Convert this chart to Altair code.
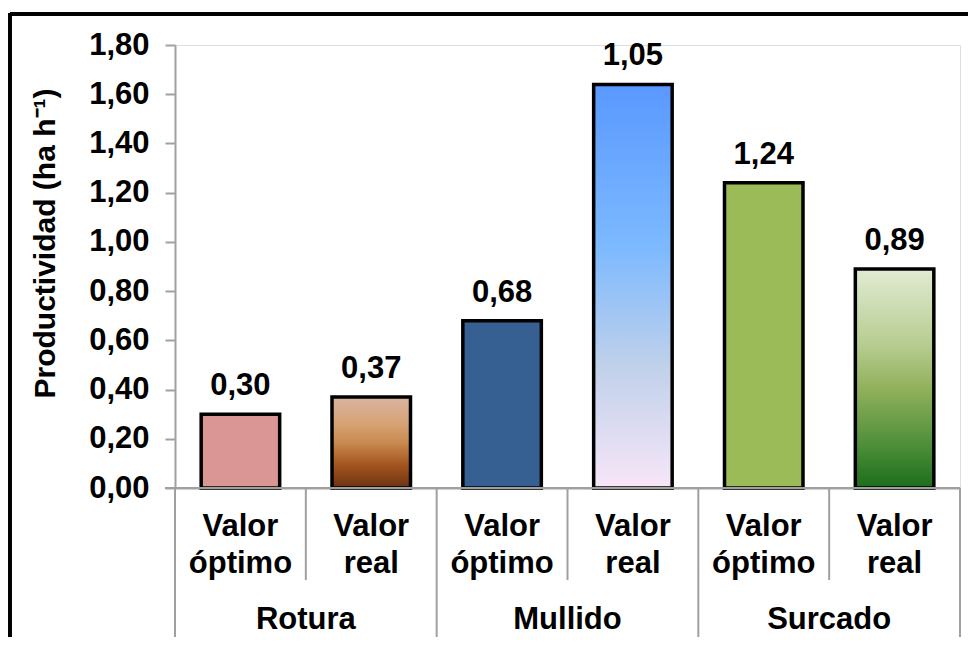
import altair as alt
import pandas as pd

FONT = "Liberation Sans"

groups = ["Rotura", "Mullido", "Surcado"]
line1 = ["Valor", "Valor", "Valor", "Valor", "Valor", "Valor"]
line2 = ["óptimo", "real", "óptimo", "real", "óptimo", "real"]
heights = [0.30, 0.37, 0.68, 1.64, 1.24, 0.89]
value_labels = ["0,30", "0,37", "0,68", "1,05", "1,24", "0,89"]
y_ticks = [0.0, 0.2, 0.4, 0.6, 0.8, 1.0, 1.2, 1.4, 1.6, 1.8]


def grad(stops):
    return alt.Gradient(
        gradient="linear", x1=0, x2=0, y1=0, y2=1,
        stops=[alt.GradientStop(color=c, offset=o) for o, c in stops],
    )


fills = [
    "#d99694",
    grad([(0, "#dab4a2"), (0.3, "#d6a273"), (0.5, "#c98a50"), (0.75, "#a3541f"), (1, "#6b3311")]),
    "#376092",
    grad([(0, "#5a98ff"), (0.4, "#7cb9ff"), (0.7, "#c0d1ea"), (1, "#f8e6f8")]),
    "#9bbb59",
    grad([(0, "#e1ebd3"), (0.35, "#b6cc90"), (0.55, "#90b05b"), (0.8, "#4f8f3a"), (1, "#1b6d1b")]),
]

n = len(heights)
bars = pd.DataFrame({
    "idx": list(range(n)),
    "x0": [i + 0.2 for i in range(n)],
    "x1": [i + 0.8 for i in range(n)],
    "xc": [i + 0.5 for i in range(n)],
    "h": heights,
    "lab": value_labels,
    "l1": line1,
    "l2": line2,
})
grp = pd.DataFrame({"xc": [2 * i + 1 for i in range(len(groups))], "g": groups})
inner_sep = pd.DataFrame({"x": [1, 3, 5]})
group_sep = pd.DataFrame({"x": [0, 2, 4, 6]})

xscale = alt.Scale(domain=[0, 6], nice=False, zero=False)
yscale = alt.Scale(domain=[0, 1.8], nice=False)
GRAY = "#a0a0a0"
FS = 31

base = alt.Chart(bars)

yaxis = alt.Axis(
    values=y_ticks,
    labelExpr="replace(format(datum.value, '.2f'), '.', ',')",
    labelFont=FONT, labelFontSize=FS, labelFontWeight="bold", labelColor="black",
    labelPadding=16, tickSize=10, tickColor=GRAY, tickWidth=2,
    domainColor=GRAY, domainWidth=2, grid=False,
    title="Productividad (ha h⁻¹)", titleFont=FONT, titleFontSize=30,
    titleFontWeight="bold", titleColor="black", titleAngle=270,
    titleX=-130, titleY=198, titleAlign="center", titleBaseline="middle",
)
xaxis = alt.Axis(labels=False, ticks=False, title=None, grid=False,
                 domainColor=GRAY, domainWidth=2)

layers = []
for i in range(n):
    layers.append(
        base.transform_filter(alt.datum.idx == i)
        .mark_bar(fill=fills[i], stroke="black", strokeWidth=3.5)
        .encode(
            x=alt.X("x0:Q", scale=xscale, axis=xaxis),
            x2="x1:Q",
            y=alt.Y("h:Q", scale=yscale, axis=yaxis),
            y2=alt.datum(0),
        )
    )

axis_line = base.mark_rule(color=GRAY, strokeWidth=2).encode(
    x=alt.value(-10), x2=alt.value(785), y=alt.value(443)
)

value_text = base.mark_text(
    font=FONT, fontSize=FS, fontWeight="bold", color="black",
    baseline="alphabetic", dy=-19,
).encode(x=alt.X("xc:Q", scale=xscale), y=alt.Y("h:Q", scale=yscale), text="lab:N")

cat1 = base.mark_text(font=FONT, fontSize=FS, fontWeight="bold", color="black",
                      baseline="alphabetic").encode(
    x=alt.X("xc:Q", scale=xscale), y=alt.value(491), text="l1:N")
cat2 = base.mark_text(font=FONT, fontSize=FS, fontWeight="bold", color="black",
                      baseline="alphabetic").encode(
    x=alt.X("xc:Q", scale=xscale), y=alt.value(528), text="l2:N")
grp_text = alt.Chart(grp).mark_text(font=FONT, fontSize=FS, fontWeight="bold",
                                    color="black", baseline="alphabetic").encode(
    x=alt.X("xc:Q", scale=xscale), y=alt.value(584), text="g:N")

inner = alt.Chart(inner_sep).mark_rule(color=GRAY, strokeWidth=2).encode(
    x=alt.X("x:Q", scale=xscale), y=alt.value(443), y2=alt.value(535))
outer = alt.Chart(group_sep).mark_rule(color=GRAY, strokeWidth=2).encode(
    x=alt.X("x:Q", scale=xscale), y=alt.value(443), y2=alt.value(593))

border_top = base.mark_rule(color="black", strokeWidth=3).encode(
    x=alt.value(-165), x2=alt.value(800), y=alt.value(-31))
border_left = base.mark_rule(color="black", strokeWidth=3).encode(
    x=alt.value(-165), y=alt.value(-32), y2=alt.value(600))

chart = alt.layer(
    *layers, axis_line, value_text, cat1, cat2, grp_text, inner, outer,
    border_top, border_left,
).properties(
    width=785, height=443,
    autosize=alt.AutoSizeParams(type="none"),
    padding={"left": 167, "top": 37, "right": 8, "bottom": 149},
).configure_view(stroke=None).configure(background="white")

chart.save("out.html", embed_options={"renderer": "svg", "actions": False})
